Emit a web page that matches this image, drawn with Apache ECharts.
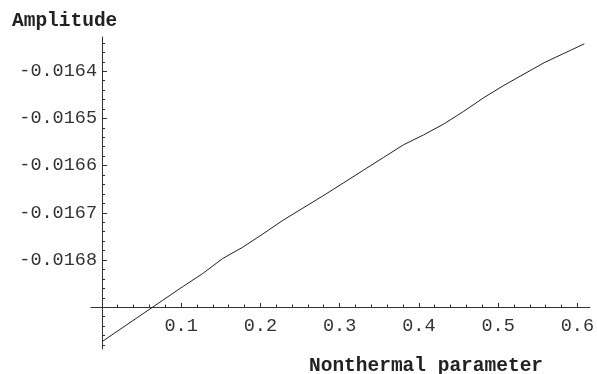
<!DOCTYPE html>
<html><head><meta charset="utf-8">
<script src="https://cdn.jsdelivr.net/npm/echarts@6/dist/echarts.min.js"></script>
<style>html,body{margin:0;padding:0;background:#fff}#c{width:597px;height:374px}</style>
</head><body><div id="c"></div>
<script>
// Data
const xVals = [0, 0.025, 0.05, 0.075, 0.1, 0.125, 0.15, 0.175, 0.2, 0.225, 0.25, 0.275, 0.3, 0.325, 0.35, 0.375, 0.4, 0.425, 0.45, 0.475, 0.5, 0.525, 0.55, 0.575, 0.6];
const yVals = [-0.016973, -0.016944, -0.016915, -0.016886, -0.016857, -0.016829, -0.016797, -0.016773, -0.016745, -0.016716, -0.016690, -0.016664, -0.016637, -0.016610, -0.016583, -0.016556, -0.016535, -0.016512, -0.016485, -0.016456, -0.016430, -0.016406, -0.016382, -0.016362, -0.016342];
const xTickLabels = [0.1, 0.2, 0.3, 0.4, 0.5, 0.6];
const yTickLabels = [-0.0168, -0.0167, -0.0166, -0.0165, -0.0164];
const xMinorTicks = [0.02,0.04,0.06,0.08,0.12,0.14,0.16,0.18,0.22,0.24,0.26,0.28,0.32,0.34,0.36,0.38,0.42,0.44,0.46,0.48,0.52,0.54,0.56,0.58,0.62];
const yMinorTicks = [-0.01698,-0.01696,-0.01694,-0.01692,-0.01688,-0.01686,-0.01684,-0.01682,-0.01678,-0.01676,-0.01674,-0.01672,-0.01668,-0.01666,-0.01664,-0.01662,-0.01658,-0.01656,-0.01654,-0.01652,-0.01648,-0.01646,-0.01644,-0.01642,-0.01638,-0.01636,-0.01634];

const X_MAX = 0.6158, X_MIN_AXIS = -0.01368;
const Y_MIN = -0.01698856, Y_MAX = -0.01632754;
const FONT = 'Liberation Mono';
const LBL = '#333';
const AX = '#333';

const chart = echarts.init(document.getElementById('c'), null, {renderer: 'canvas'});
chart.setOption({
  animation: false,
  backgroundColor: '#fff',
  title: [
    {text: 'Amplitude', left: 12, top: 11, padding: 0, textStyle: {fontFamily: FONT, fontWeight: 'bold', fontSize: 19.5, color: '#222'}},
    {text: 'Nonthermal parameter', left: 309, top: 356, padding: 0, textStyle: {fontFamily: FONT, fontWeight: 'bold', fontSize: 19.5, color: '#222'}}
  ],
  grid: [
    {left: 102, right: 0, top: 37, bottom: 25},
    {left: 91, right: 0, top: 297, bottom: 67}
  ],
  xAxis: [
    {gridIndex: 0, type: 'value', min: 0, max: X_MAX, show: false},
    {gridIndex: 1, type: 'value', min: X_MIN_AXIS, max: X_MAX, position: 'bottom',
      axisLine: {show: true, lineStyle: {color: AX, width: 1}},
      axisTick: {show: true, inside: true, length: 4, lineStyle: {color: AX}, customValues: xTickLabels},
      axisLabel: {show: true, margin: 10, customValues: xTickLabels, fontFamily: FONT, fontSize: 18.5, color: LBL, formatter: v => String(v)},
      splitLine: {show: false}},
    {gridIndex: 1, type: 'value', min: X_MIN_AXIS, max: X_MAX, position: 'bottom',
      axisLine: {show: false},
      axisTick: {show: true, inside: true, length: 2.5, lineStyle: {color: AX}, customValues: xMinorTicks},
      axisLabel: {show: false},
      splitLine: {show: false}}
  ],
  yAxis: [
    {gridIndex: 0, type: 'value', min: Y_MIN, max: Y_MAX, position: 'left',
      axisLine: {show: true, lineStyle: {color: AX, width: 1}},
      axisTick: {show: true, inside: true, length: 5, lineStyle: {color: AX}, customValues: yTickLabels},
      axisLabel: {show: true, margin: 5, customValues: yTickLabels, fontFamily: FONT, fontSize: 18.5, color: LBL, formatter: v => v.toFixed(4)},
      splitLine: {show: false}},
    {gridIndex: 0, type: 'value', min: Y_MIN, max: Y_MAX, position: 'left', offset: 0,
      axisLine: {show: false},
      axisTick: {show: true, inside: true, length: 3, lineStyle: {color: AX}, customValues: yMinorTicks},
      axisLabel: {show: false},
      splitLine: {show: false}},
    {gridIndex: 1, type: 'value', min: 0, max: 1, show: false}
  ],
  series: [{
    type: 'line',
    xAxisIndex: 0, yAxisIndex: 0,
    data: xVals.map((x, i) => [x, yVals[i]]),
    showSymbol: false, symbol: 'none',
    lineStyle: {color: '#222', width: 1},
    clip: false
  }]
});
</script></body></html>
